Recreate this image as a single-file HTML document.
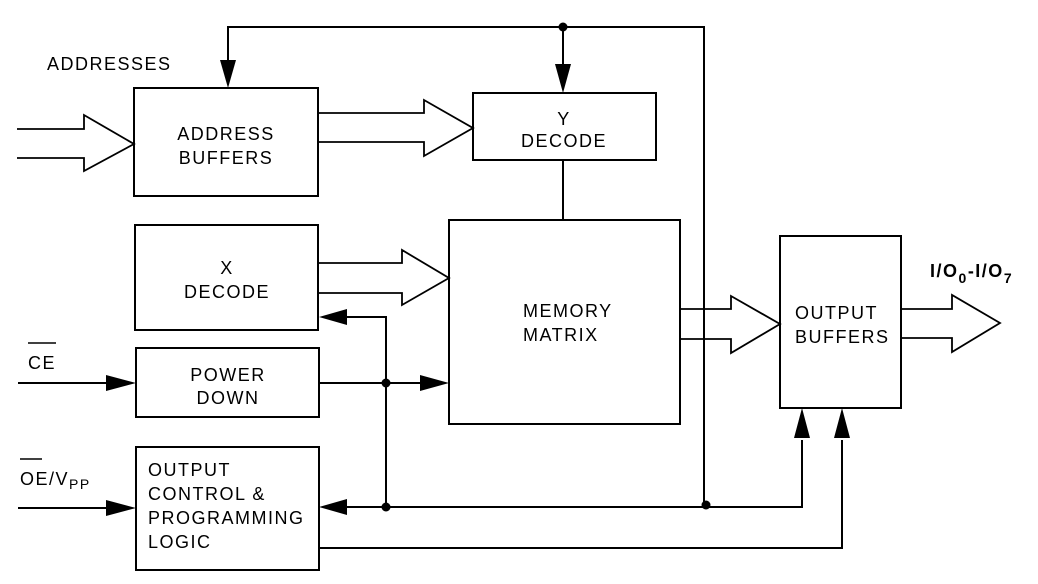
<!DOCTYPE html>
<html><head><meta charset="utf-8"><style>
html,body{margin:0;padding:0;background:#fff;}
svg{display:block;}
text{font-family:"Liberation Sans",sans-serif;font-size:18px;fill:#000;letter-spacing:1.5px;}
</style></head><body>
<svg width="1038" height="584" viewBox="0 0 1038 584" xmlns="http://www.w3.org/2000/svg">
<g fill="none" stroke="#000" stroke-width="2">
<rect x="134" y="88" width="184" height="108"/>
<rect x="473" y="93" width="183" height="67"/>
<rect x="449" y="220" width="231" height="204"/>
<rect x="135" y="225" width="183" height="105"/>
<rect x="136" y="348" width="183" height="69"/>
<rect x="136" y="447" width="183" height="123"/>
<rect x="780" y="236" width="121" height="172"/>
<polyline points="228,60 228,27 704,27 704,505"/>
<line x1="563" y1="27" x2="563" y2="64"/>
<line x1="563" y1="160" x2="563" y2="220"/>
<line x1="18" y1="383" x2="108" y2="383"/>
<line x1="319" y1="383" x2="422" y2="383"/>
<line x1="18" y1="508" x2="108" y2="508"/>
<polyline points="346,317 386,317 386,507"/>
<polyline points="346,507 802,507 802,440"/>
<polyline points="319,548 842,548 842,440"/>
<polyline points="17,129 84,129 84,115 134,144 84,171 84,158 17,158" stroke-width="1.8"/>
<polygon points="318,113 424,113 424,100 473,128 424,156 424,142 318,142" stroke-width="1.8"/>
<polygon points="318,263 402,263 402,250 449,278 402,305 402,293 318,293" stroke-width="1.8"/>
<polygon points="680,309 731,309 731,296 780,324 731,353 731,339 680,339" stroke-width="1.8"/>
<polygon points="901,309 952,309 952,295 1000,323 952,352 952,338 901,338" stroke-width="1.8"/>
</g>
<g fill="#000">
<polygon points="220,60 236,60 228,88"/>
<polygon points="555,64 571,64 563,93"/>
<polygon points="106,375 106,391 136,383"/>
<polygon points="106,500 106,516 136,508"/>
<polygon points="420,375 420,391 449,383"/>
<polygon points="347,309 347,325 319,317"/>
<polygon points="347,499 347,515 319,507"/>
<polygon points="794,438 810,438 802,408"/>
<polygon points="834,438 850,438 842,408"/>
<circle cx="563" cy="27" r="4.5"/>
<circle cx="386" cy="383" r="4.5"/>
<circle cx="386" cy="507" r="4.5"/>
<circle cx="706" cy="505" r="4.5"/>
</g>
<text x="47" y="70">ADDRESSES</text>
<text x="226" y="140" text-anchor="middle">ADDRESS</text>
<text x="226" y="164" text-anchor="middle">BUFFERS</text>
<text x="564" y="125" text-anchor="middle">Y</text>
<text x="564" y="147" text-anchor="middle">DECODE</text>
<text x="227" y="274" text-anchor="middle">X</text>
<text x="227" y="298" text-anchor="middle">DECODE</text>
<text x="523" y="317">MEMORY</text>
<text x="523" y="341">MATRIX</text>
<text x="228" y="381" text-anchor="middle">POWER</text>
<text x="228" y="404" text-anchor="middle">DOWN</text>
<text x="148" y="476">OUTPUT</text>
<text x="148" y="500">CONTROL &amp;</text>
<text x="148" y="524">PROGRAMMING</text>
<text x="148" y="548">LOGIC</text>
<text x="795" y="319">OUTPUT</text>
<text x="795" y="343">BUFFERS</text>
<text x="28" y="369">CE</text>
<line x1="28" y1="343" x2="56" y2="343" stroke="#000" stroke-width="1.5"/>
<text x="20" y="485">OE/V<tspan font-size="14" dy="4">PP</tspan></text>
<line x1="20" y1="459" x2="42" y2="459" stroke="#000" stroke-width="1.5"/>
<text x="930" y="277" font-weight="bold" letter-spacing="0">I/O<tspan font-size="14" dy="6">0</tspan><tspan dy="-6">-I/O</tspan><tspan font-size="14" dy="6">7</tspan></text>
</svg>
</body></html>
